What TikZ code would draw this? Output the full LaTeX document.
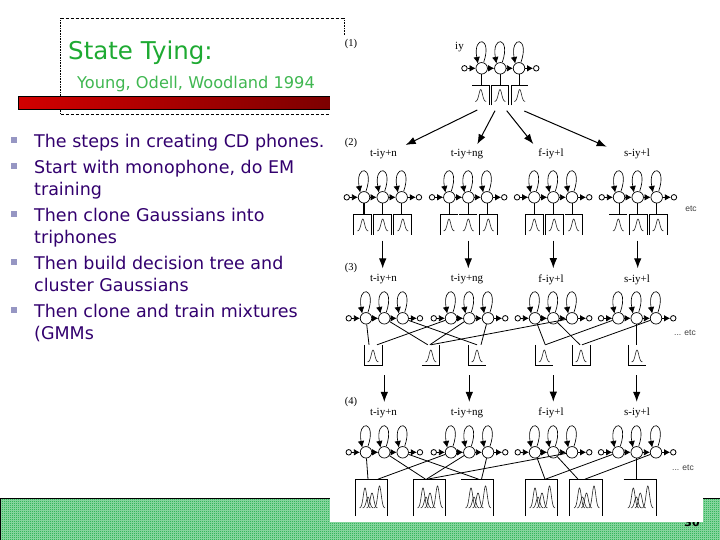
\documentclass[tikz,border=0pt]{standalone}
\usepackage{fontspec}
\setmainfont{DejaVu Sans}
\newfontfamily\figserif{Liberation Serif}
\newfontfamily\figsans{Liberation Sans}
\usepackage{xcolor}
\usetikzlibrary{arrows.meta,positioning,patterns,calc}
\definecolor{tiegreen}{RGB}{30,170,50}
\definecolor{itempurple}{RGB}{50,0,110}
\definecolor{itemmark}{RGB}{150,150,195}
\definecolor{barred}{RGB}{210,0,0}
\definecolor{bardark}{RGB}{125,0,0}
\definecolor{footgreen}{RGB}{0,165,50}
\pgfdeclarepatternformonly{footcheck}{\pgfqpoint{0pt}{0pt}}{\pgfqpoint{2pt}{2pt}}{\pgfqpoint{2pt}{2pt}}{
  \pgfpathrectangle{\pgfqpoint{0pt}{0pt}}{\pgfqpoint{1pt}{1pt}}
  \pgfpathrectangle{\pgfqpoint{1pt}{1pt}}{\pgfqpoint{1pt}{1pt}}
  \pgfusepath{fill}
}
% walls of a box, \b being its name
\newcommand{\wt}{(\b.north west) -- (\b.north east)}
\newcommand{\wtr}{(\b.north west) -- (\b.north east) -- (\b.south east)}
\newcommand{\wlt}{(\b.south west) -- (\b.north west) -- (\b.north east)}
\newcommand{\wltr}{(\b.south west) -- (\b.north west) -- (\b.north east) -- (\b.south east)}
\newcommand{\wlb}{(\b.north west) -- (\b.south west) -- (\b.south east)}
\newcommand{\wbr}{(\b.south west) -- (\b.south east) -- (\b.north east)}
\newcommand{\wlbr}{(\b.north west) -- (\b.south west) -- (\b.south east) -- (\b.north east)}
% one peak: centre, base line, height
\newcommand{\peak}[3]{\draw[curve] plot[domain=-5.5:5.5,samples=25,variable=\u] ({#1+\u},{#2-#3*exp(-\u*\u/6)});}
% one phone model: name, three state positions, row
\newcommand{\phone}[5]{
  \node[state] (#11) at (#2,#5) {};
  \node[state] (#12) at (#3,#5) {};
  \node[state] (#13) at (#4,#5) {};
  \node[endpt,left=8pt of #11] (#1in) {};
  \node[endpt,right=8pt of #13] (#1out) {};
  \draw[step arrow] (#1in) -- (#11);
  \draw[step arrow] (#11) -- (#12);
  \draw[step arrow] (#12) -- (#13);
  \draw[step arrow] (#13) -- (#1out);
  \foreach \s in {1,2,3}{
    \draw[loop arrow] ($(#1\s.north)+(2,0)$) .. controls ($(#1\s.north)+(11,-26)$) and ($(#1\s.north)+(-9,-27)$) .. ($(#1\s.north west)+(0.5,-0.5)$);
  }
}
\begin{document}
\begin{tikzpicture}[
  x=1pt,y=-1pt,
  state/.style={circle,draw,fill=white,minimum size=11.5pt,inner sep=0pt,line width=0.7pt},
  endpt/.style={circle,draw,minimum size=5.5pt,inner sep=0pt,line width=0.8pt},
  step arrow/.style={-{Latex[length=6pt,width=6.5pt]},line width=0.7pt},
  loop arrow/.style={-{Latex[length=6.5pt,width=6.5pt]},line width=0.65pt},
  big arrow/.style={-{Latex[length=10pt,width=7.5pt]},line width=1pt},
  wire/.style={line width=0.8pt},
  thick wire/.style={line width=1.4pt},
  curve/.style={line width=0.6pt,black!85},
  gbox/.style={inner sep=0pt,minimum width=17.5pt,minimum height=20pt},
  mixbox/.style={inner sep=0pt,minimum width=32pt,minimum height=36.5pt},
  phonelabel/.style={font=\figserif\fontsize{11}{13}\selectfont,inner sep=1pt},
  steplabel/.style={font=\figserif\fontsize{10.5}{12}\selectfont,inner sep=0pt},
  etclabel/.style={font=\figsans\fontsize{8.5}{10}\selectfont,text=black!75,inner sep=0pt},
  slideitem/.style={anchor=north west,align=left,inner sep=0pt,text=itempurple,font=\fontsize{17.5}{22}\selectfont},
  itembox/.style={rectangle,fill=itemmark,minimum size=6pt,inner sep=0pt},
]
\useasboundingbox (0,0) rectangle (720,540);

% footer band
\node[inner sep=0pt,minimum width=720pt,minimum height=42pt,anchor=north west,preaction={fill=footgreen!40},pattern=footcheck,pattern color=footgreen] (foot) at (0,498) {};
\draw[line width=0.8pt] (foot.south west) -- (foot.north west) -- (foot.north east);
\node[font=\bfseries\fontsize{11}{12}\selectfont,inner sep=0pt] (pageno) at (692,522.5) {30};

% title frame
\node[inner sep=0pt,minimum width=283pt,minimum height=95.5pt,anchor=north west] (frame) at (60.5,18.5) {};
\draw[densely dashed,line width=0.5pt] (frame.north west) -- (frame.north east);
\draw[densely dashed,line width=0.5pt] (frame.south west) -- (frame.south east);
\draw[densely dotted,line width=0.6pt] (frame.north west) -- (frame.south west);
\draw[densely dotted,line width=0.6pt] (frame.north east) -- ++(0,17);
\node[inner sep=0pt,minimum width=312pt,minimum height=12pt,anchor=north west,left color=barred,right color=bardark] (redbar) at (18,96.5) {};
\draw[line width=0.6pt] (redbar.north east) -- (redbar.north west) -- (redbar.south west) -- (redbar.south east);
\node[anchor=west,inner sep=0pt,text=tiegreen,font=\fontsize{24.5}{28}\selectfont] (title) at (68,52.5) {State Tying:};
\node[anchor=west,inner sep=0pt,text=tiegreen!85,font=\fontsize{16.2}{19}\selectfont] (authors) at (77,84) {Young, Odell, Woodland 1994};

% white ground of the figure
\node[fill=white,inner sep=0pt,minimum width=373pt,minimum height=486.7pt,anchor=north west] (figure) at (330,35) {};

% bullets
\foreach \n/\yy/\txt in {1/134/{The steps in creating CD phones.},
    2/160/{Start with monophone, do EM\\training},
    3/208/{Then clone Gaussians into\\triphones},
    4/256/{Then build decision tree and\\cluster Gaussians},
    5/304/{Then clone and train mixtures\\(GMMs}}{
  \node[slideitem] (item\n) at (34,\yy) {\txt};
  \node[itembox] (mark\n) at (14,\yy+6) {};
}

% (1) the monophone
\node[steplabel] (one) at (351,44) {(1)};
\node[phonelabel] (iy) at (459.5,47.5) {iy};
\phone{m}{481.7}{500.3}{519}{68.3}
\foreach \b/\x/\w/\st in {ma/480.7/\wtr/m1,mb/500/\wltr/m2,mc/519.7/\wlt/m3}{
  \node[gbox,minimum width=17pt,minimum height=19.5pt] (\b) at (\x,95.5) {};
  \draw[wire] \w;
  \draw[wire] (\st) -- (\st |- \b.north);
  \peak{\x}{101.5}{12}
}
\foreach \i/\xa/\ya/\xb/\yb in {1/477.3/110/405.7/145,2/495/110.7/477.3/144.3,3/506.7/110.7/533.3/144,4/524.3/111/606.7/146.7}{
  \coordinate (from\i) at (\xa,\ya);
  \coordinate (to\i) at (\xb,\yb);
  \draw[big arrow] (from\i) -- (to\i);
}

% (2) cloned triphones
\node[steplabel] (two) at (351,142.5) {(2)};
\foreach \r/\yy in {a/154,b/279.5,c/413}{
  \node[phonelabel] (\r t) at (383.5,\yy) {t-iy+n};
  \node[phonelabel] (\r u) at (467,\yy) {t-iy+ng};
  \node[phonelabel] (\r f) at (551,\yy) {f-iy+l};
  \node[phonelabel] (\r s) at (637,\yy) {s-iy+l};
}
\phone{at}{364}{382.7}{401.7}{197.3}
\phone{au}{449.3}{468.3}{487}{197.3}
\phone{af}{534.3}{553.3}{572}{197.3}
\phone{as}{619}{637.7}{656.7}{197.3}
\foreach \b/\x/\w/\st/\pen in {
    a1/362.8/\wltr/at1/thick wire,a2/382.7/\wltr/at2/wire,a3/402.8/\wltr/at3/thick wire,
    a4/449/\wlt/au1/wire,a5/468.3/\wt/au2/wire,a6/488.3/\wltr/au3/wire,
    a7/534.3/\wltr/af1/thick wire,a8/554.2/\wltr/af2/wire,a9/573.7/\wtr/af3/wire,
    a10/618.3/\wt/as1/wire,a11/638/\wltr/as2/wire,a12/658/\wltr/as3/wire}{
  \node[gbox] (\b) at (\x,224.3) {};
  \draw[wire] \w;
  \draw[\pen] (\st) -- (\st |- \b.north);
  \peak{\x}{231}{12}
}
\node[etclabel] (etca) at (691,208.5) {etc};

% (3) tied states
\node[steplabel] (three) at (351,267.5) {(3)};
\phone{bt}{366}{384.3}{402.7}{318.3}
\phone{bu}{451}{469.3}{488}{318.3}
\phone{bf}{535}{553.3}{572}{318.3}
\phone{bs}{618.3}{636.7}{656}{318.3}
\foreach \b/\x/\w in {b1/373/\wlbr,b2/430.8/\wbr,b3/477/\wlb,b4/544.3/\wlb,b5/581/\wlbr,b6/637/\wlb}{
  \node[gbox] (\b) at (\x,355) {};
  \draw[wire] \w;
  \peak{\x}{362}{12}
}
\foreach \st/\b/\s in {bt1/b1/-4,bu1/b1/4,bt2/b2/-3,bu2/b2/-1,bf3/b2/0,bt3/b3/0,bu3/b3/4,bf1/b4/1,bs1/b4/1,bf2/b5/-1,bs3/b5/1}{
  \draw[wire] (\st) -- ([xshift=\s pt]\b.north);
}
\draw[thick wire] (bs2) -- (bs2 |- b6.north);
\node[etclabel] (etcb) at (685,333) {... etc};

% (4) mixtures
\node[steplabel] (four) at (351,401.5) {(4)};
\phone{ct}{366}{384.3}{402.7}{452.3}
\phone{cu}{451}{469.3}{488}{452.3}
\phone{cf}{535}{553.3}{572}{452.3}
\phone{cs}{618.3}{636.7}{656}{452.3}
\foreach \b/\x/\w in {c1/371.5/\wltr,c2/429.5/\wltr,c3/477.5/\wtr,c4/541.5/\wltr,c5/586/\wltr,c6/639.8/\wtr}{
  \node[mixbox] (\b) at (\x,497.6) {};
  \draw[wire] \w;
  \peak{\x-6.5}{508}{20}
  \peak{\x-3.5}{508}{11}
  \peak{\x+0.5}{508}{15}
  \peak{\x+8}{508}{22}
}
\foreach \st/\b/\s in {ct1/c1/-3.5,cu1/c1/6.5,ct2/c2/-4,cu2/c2/-3,cf3/c2/-2,ct3/c3/1,cu3/c3/4,cf1/c4/3.5,cs1/c4/4,cf2/c5/-8,cs3/c5/-1}{
  \draw[wire] (\st) -- ([xshift=\s pt]\b.north);
}
\draw[thick wire] (cs2) -- (cs2 |- c6.north);
\node[etclabel] (etcc) at (683,467.5) {... etc};

% arrows between the rows
\foreach \st/\lab/\bx in {at2/bt/a2,au2/bu/a5,af2/bf/a8,as2/bs/a11}{
  \draw[big arrow] ([yshift=-6pt]\st |- \bx.south) -- ([yshift=5pt]\st |- \lab.north);
}
\foreach \st/\lab in {bt2/ct,bu2/cu,bf2/cf,bs2/cs}{
  \draw[big arrow] ([yshift=-10pt]\st |- b1.south) -- ([yshift=5pt]\st |- \lab.north);
}
\end{tikzpicture}
\end{document}
